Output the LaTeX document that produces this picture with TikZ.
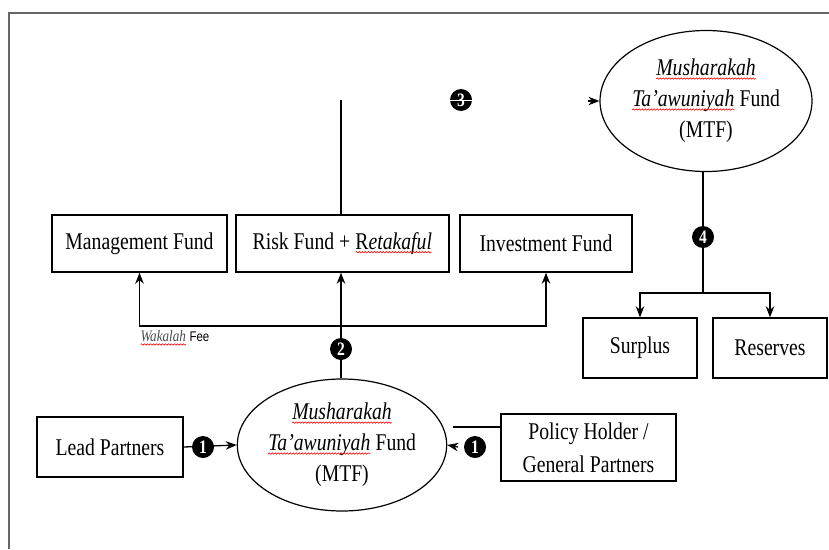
\documentclass[tikz,border=0pt]{standalone}
\usepackage{fontspec}
\setmainfont{Liberation Serif}[FakeStretch=0.82]
\newfontfamily\sansf{Liberation Sans}[FakeStretch=0.82]
\usetikzlibrary{arrows.meta,shapes.geometric,decorations.pathmorphing}
\newcommand{\sqig}[1]{\tikz[baseline=(w.base)]{\node[shape=rectangle,draw=none,fill=none,inner sep=0pt,outer sep=0pt,minimum width=0pt,minimum height=0pt,anchor=center](w){#1};\draw[red,line width=0.6pt,decorate,decoration={snake,amplitude=0.7pt,segment length=3pt}]([yshift=-2.8pt]w.base west)--([yshift=-2.8pt]w.base east);}}
\tikzset{
  box/.style={draw, line width=1.4pt, rectangle, inner sep=0pt, align=center,
    font=\fontsize{24}{33}\selectfont},
  fund/.style={draw, line width=1.2pt, ellipse, inner sep=0pt, align=center,
    font=\fontsize{24}{31}\selectfont},
  badge/.style={circle, fill=black, text=white, inner sep=0pt, minimum size=22pt,
    font=\fontsize{19}{19}\selectfont\bfseries},
  conn/.style={line width=1.3pt},
  arr/.style={conn, -{Stealth[length=11pt,width=8.5pt,inset=3.5pt]}},
}
\begin{document}
\begin{tikzpicture}[x=1pt,y=-1pt]
\useasboundingbox (0,0) rectangle (829,549);
\draw[black!60, line width=2pt] (9,549) -- (9,13) -- (829,13);

% boxes
\node[box, minimum width=175pt, minimum height=57pt] (mgmt) at (139.5,243.5) {Management Fund};
\node[box, minimum width=213pt, minimum height=57pt] (risk) at (342.5,243.5) {Risk Fund + \sqig{R\textit{etakaful}}};
\node[box, minimum width=172pt, minimum height=57pt] (inv) at (546,243.5) {Investment Fund};
\node[box, minimum width=114pt, minimum height=60pt] (surplus) at (640,348) {Surplus};
\node[box, minimum width=114pt, minimum height=60pt] (reserves) at (770,348) {Reserves};
\node[box, minimum width=146pt, minimum height=60pt] (lead) at (110,447) {Lead Partners};
\node[box, minimum width=175pt, minimum height=67pt] (policy) at (588.5,447.5) {Policy Holder /\\General Partners};

% ellipses
\node[fund, minimum width=212pt, minimum height=141pt] (top) at (706,101)
  {\sqig{\textit{Musharakah}}\\\sqig{\textit{Ta'awuniyah}} Fund\\(MTF)};
\node[fund, minimum width=209pt, minimum height=132pt] (bot) at (342,445)
  {\sqig{\textit{Musharakah}}\\\sqig{\textit{Ta'awuniyah}} Fund\\(MTF)};

% coordinates
\coordinate (c3top) at (341,100);
\coordinate (c3a) at (588,101);
\coordinate (j4) at (703,293);
\coordinate (j2) at (341,326);
\coordinate (pa) at (453,427);
\coordinate (pb) at (458,447);

% connectors
\draw[conn] (c3top) -- (risk.north -| c3top);
\draw[arr] (c3a) -- (top.west);
\draw[conn] (top.south -| j4) -- (j4);
\draw[arr] (j4) -| (surplus.north);
\draw[arr] (j4) -| (reserves.north);
\draw[conn] (bot.north -| j2) -- (j2);
\draw[arr] (j2) -- (risk.south -| j2);
\draw[arr] (j2) -| (mgmt.south);
\draw[arr] (j2) -| (inv.south);
\draw[arr] (lead.east) -- (bot.west);
\draw[conn] (policy.west |- pa) -- (pa);
\draw[arr] (pb) -- (bot.east);

% badges
\node[badge] (b3) at (461,100) {3};
\draw[white, line width=1pt] (b3.west) -- (b3.east);
\node[badge] (b4) at (703,237) {4};
\node[badge] (b2) at (341,349) {2};
\node[badge] (b1l) at (203,447) {1};
\node[badge] (b1r) at (475,447) {1};

% label
\node[anchor=west, inner sep=0pt] (wak) at (140,338)
  {\fontsize{16}{16}\selectfont\sqig{\textcolor{black!70}{\textit{Wakalah}}} {\sansf\fontsize{14}{14}\selectfont Fee}};
\end{tikzpicture}
\end{document}
